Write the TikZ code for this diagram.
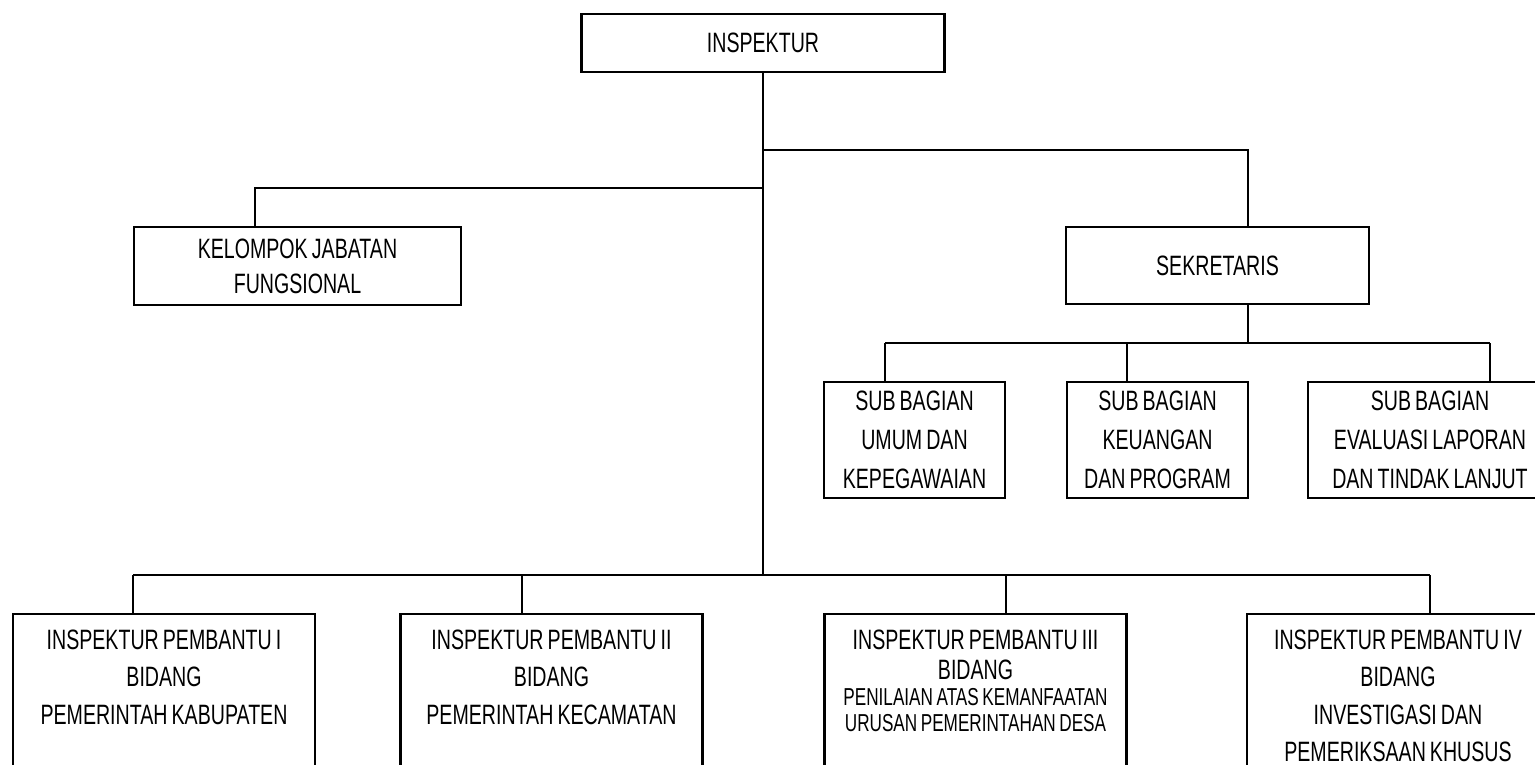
\documentclass[tikz,border=0pt]{standalone}
\usepackage{fontspec}
\setmainfont{Liberation Sans}[FakeStretch=0.7, WordSpace=0.75]
\tikzset{
  unit/.style={draw, line width=2.2pt, align=center, inner sep=0pt},
  bidang/.style={unit, align=flush center, anchor=north, text height=35pt, text depth=200pt},
  link/.style={line width=2pt},
}
\newcommand{\kecil}{\fontsize{24.5}{37.5}\selectfont}

\begin{document}
\begin{tikzpicture}[x=1pt, y=-1pt, font=\fontsize{28}{37.5}\selectfont]
\useasboundingbox (0,0) rectangle (1535,765);

% upper level
\node[unit, minimum width=363pt, minimum height=58pt] (insp) at (763,43) {INSPEKTUR};
\node[unit, minimum width=327pt, minimum height=78pt] (kjf) at (297.5,266) {KELOMPOK JABATAN\\[-2.5pt] FUNGSIONAL};
\node[unit, minimum width=303pt, minimum height=77pt] (sek) at (1217.5,265.5) {SEKRETARIS};

% sub bagian under sekretaris
\foreach \name/\xpos/\bw/\txt in {
    sub1/914.5/181/{SUB BAGIAN\\[1.5pt] UMUM DAN\\[1.5pt] KEPEGAWAIAN},
    sub2/1157.5/181/{SUB BAGIAN\\[1.5pt] KEUANGAN\\[1.5pt] DAN PROGRAM},
    sub3/1430/244/{SUB BAGIAN\\[1.5pt] EVALUASI LAPORAN\\[1.5pt] DAN TINDAK LANJUT}} {
  \node[unit, minimum width=\bw pt, minimum height=116pt] (\name) at (\xpos,440) {\txt};
}

% inspektur pembantu
\foreach \name/\xpos/\txt in {
    ip1/164/{INSPEKTUR PEMBANTU I\\ BIDANG\\ PEMERINTAH KABUPATEN},
    ip2/551.5/{INSPEKTUR PEMBANTU II\\ BIDANG\\ PEMERINTAH KECAMATAN},
    ip3/975.5/{INSPEKTUR PEMBANTU III\\[-7.5pt] BIDANG\\[-11pt] {\kecil PENILAIAN ATAS KEMANFAATAN}\\[-12pt] {\kecil URUSAN PEMERINTAHAN DESA}},
    ip4/1398/{INSPEKTUR PEMBANTU IV\\ BIDANG\\ INVESTIGASI DAN\\ PEMERIKSAAN KHUSUS}} {
  \node[bidang, text width=302pt] (\name) at (\xpos,613) {\txt};
}

% junctions
\coordinate (jkjf) at (255,188);
\coordinate (jsek) at (1248,150);
\coordinate (jsub) at (1248,343);
\coordinate (jbid) at (763,575);

\draw[link] (insp.south) -- (jbid);
\draw[link] (insp.south |- jsek) -- (jsek) -- (jsek |- sek.north);
\draw[link] (insp.south |- jkjf) -- (jkjf) -- (jkjf |- kjf.north);
\draw[link] (jsek |- sek.south) -- (jsub);

\foreach \name/\xpos in {sub1/885,sub2/1127,sub3/1490} {
  \coordinate (d\name) at (\xpos,343);
  \draw[link] (d\name) -- (d\name |- \name.north);
}
\draw[link] (dsub1) -- (dsub3);

\foreach \name/\xpos in {ip1/133,ip2/522,ip3/1006,ip4/1430} {
  \coordinate (d\name) at (\xpos,575);
  \draw[link] (d\name) -- (d\name |- \name.north);
}
\draw[link] (dip1) -- (dip4);
\end{tikzpicture}
\end{document}
